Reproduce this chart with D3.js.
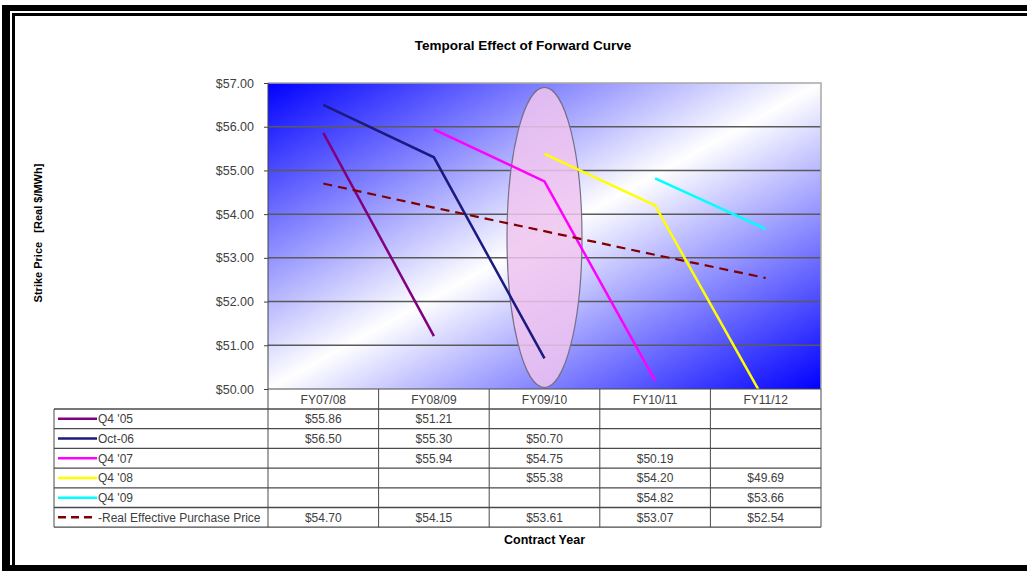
<!DOCTYPE html>
<html>
<head>
<meta charset="utf-8">
<script src="https://cdn.jsdelivr.net/npm/d3@7"></script>
<style>
  html, body { margin: 0; padding: 0; background: #fff; }
  svg { display: block; font-family: "Liberation Sans", Arial, sans-serif; }
</style>
</head>
<body>
<svg id="chart" width="1027" height="571"></svg>
<script>
// ---- data ----
const categories = ["FY07/08", "FY08/09", "FY09/10", "FY10/11", "FY11/12"];
const seriesNames = ["Q4 '05", "Oct-06", "Q4 '07", "Q4 '08", "Q4 '09", "Real Effective Purchase Price"];
const q405 = [55.86, 51.21, null, null, null];
const oct06 = [56.50, 55.30, 50.70, null, null];
const q407 = [null, 55.94, 54.75, 50.19, null];
const q408 = [null, null, 55.38, 54.20, 49.69];
const q409 = [null, null, null, 54.82, 53.66];
const realEffective = [54.70, 54.15, 53.61, 53.07, 52.54];
const yTicks = [50, 51, 52, 53, 54, 55, 56, 57];
const highlightCategory = "FY09/10";

const seriesValues = [q405, oct06, q407, q408, q409, realEffective];
const seriesColors = ["#800080", "#1a1a80", "#ff00ff", "#ffff00", "#00ffff", "#800000"];
const seriesDashed = [false, false, false, false, false, true];

const svg = d3.select("#chart");
const textCol = "#404040";
const fs = "12px";

// ---- frame ----
const frame = svg.append("g").attr("fill", "#000");
frame.append("rect").attr("x", 2).attr("y", 5).attr("width", 8).attr("height", 566);
frame.append("rect").attr("x", 2).attr("y", 5).attr("width", 1025).attr("height", 6);
frame.append("rect").attr("x", 12).attr("y", 13).attr("width", 3).attr("height", 558);
frame.append("rect").attr("x", 12).attr("y", 13).attr("width", 1015).attr("height", 3);
frame.append("rect").attr("x", 2).attr("y", 565).attr("width", 1025).attr("height", 6);

// ---- layout ----
const plot = { left: 268, right: 821, top: 83, bottom: 389 };
const tableLeft = 54;
const headerBottom = 409;
const rowH = 19.7;

const x = d3.scaleBand().domain(categories).range([plot.left, plot.right]);
const y = d3.scaleLinear().domain([50, 57]).range([plot.bottom, plot.top]);
const cx = d => x(d) + x.bandwidth() / 2;

// ---- gradient background ----
const defs = svg.append("defs");
const grad = defs.append("linearGradient").attr("id", "bg")
  .attr("x1", 0).attr("y1", 0).attr("x2", 1).attr("y2", 1);
grad.append("stop").attr("offset", 0).attr("stop-color", "#0000ff");
grad.append("stop").attr("offset", 0.5).attr("stop-color", "#ffffff");
grad.append("stop").attr("offset", 1).attr("stop-color", "#0000ff");
defs.append("clipPath").attr("id", "clip").append("rect")
  .attr("x", plot.left).attr("y", plot.top)
  .attr("width", plot.right - plot.left).attr("height", plot.bottom - plot.top);

svg.append("rect").attr("x", plot.left).attr("y", plot.top)
  .attr("width", plot.right - plot.left).attr("height", plot.bottom - plot.top)
  .attr("fill", "url(#bg)");

// gridlines
svg.append("g").selectAll("line").data(yTicks.slice(1, -1)).join("line")
  .attr("x1", plot.left).attr("x2", plot.right)
  .attr("y1", d => y(d)).attr("y2", d => y(d))
  .attr("stroke", "#5a5a5a").attr("stroke-width", 1.5);
// plot border top / right
svg.append("path")
  .attr("d", `M${plot.left},${plot.top}H${plot.right}V${plot.bottom}`)
  .attr("fill", "none").attr("stroke", "#a8a8a8").attr("stroke-width", 1.5);

// y axis
const yAxis = d3.axisLeft(y).tickValues(yTicks).tickSize(4).tickPadding(10)
  .tickFormat(d => "$" + d3.format(".2f")(d));
const yg = svg.append("g").attr("transform", `translate(${plot.left},0)`).call(yAxis);
yg.select(".domain").attr("stroke", "#404040").attr("d", `M0,${plot.top}V${plot.bottom}`);
yg.selectAll(".tick line").attr("stroke", "#404040");
yg.selectAll(".tick text").attr("fill", textCol).style("font-size", "12.5px")
  .style("font-family", "'Liberation Sans', Arial, sans-serif").attr("x", -14);

// ellipse highlight
svg.append("ellipse")
  .attr("cx", cx(highlightCategory)).attr("cy", (y(56.9) + y(50.03)) / 2)
  .attr("rx", 37.5).attr("ry", (y(50.03) - y(56.9)) / 2)
  .attr("fill", "#f0c4f0").attr("fill-opacity", 0.85)
  .attr("stroke", "#777088").attr("stroke-width", 1.2);

// series lines
const line = d3.line().defined(d => d.v !== null).x(d => cx(d.c)).y(d => y(d.v));
const lg = svg.append("g").attr("clip-path", "url(#clip)");
seriesValues.forEach((vals, i) => {
  const pts = categories.map((c, j) => ({ c, v: vals[j] }));
  lg.append("path").attr("d", line(pts)).attr("fill", "none")
    .attr("stroke", seriesColors[i]).attr("stroke-width", seriesDashed[i] ? 2.2 : 2.5)
    .attr("stroke-dasharray", seriesDashed[i] ? "9,6" : null);
});

// ---- data table ----
const tbl = svg.append("g");
const tableBottom = headerBottom + rowH * seriesNames.length;
const gridStroke = "#4a4a4a";
tbl.append("line").attr("x1", plot.left).attr("x2", plot.right)
  .attr("y1", plot.bottom).attr("y2", plot.bottom).attr("stroke", gridStroke);
d3.range(seriesNames.length + 1).forEach(k => {
  const yy = headerBottom + k * rowH;
  tbl.append("line").attr("x1", tableLeft).attr("x2", plot.right)
    .attr("y1", yy).attr("y2", yy).attr("stroke", gridStroke).attr("stroke-width", 1.3);
});
tbl.append("line").attr("x1", tableLeft).attr("x2", tableLeft)
  .attr("y1", headerBottom).attr("y2", tableBottom).attr("stroke", gridStroke);
categories.forEach(c => {
  tbl.append("line").attr("x1", x(c)).attr("x2", x(c))
    .attr("y1", plot.bottom).attr("y2", tableBottom).attr("stroke", gridStroke);
});
tbl.append("line").attr("x1", plot.right).attr("x2", plot.right)
  .attr("y1", plot.bottom).attr("y2", tableBottom).attr("stroke", gridStroke);

tbl.selectAll("text.cat").data(categories).join("text").attr("class", "cat")
  .attr("x", d => cx(d)).attr("y", (plot.bottom + headerBottom) / 2 + 4.5)
  .attr("text-anchor", "middle").attr("fill", textCol).style("font-size", fs).text(d => d);

seriesNames.forEach((name, i) => {
  const rc = headerBottom + rowH * i + rowH / 2;
  tbl.append("line").attr("x1", 58).attr("x2", 97).attr("y1", rc).attr("y2", rc)
    .attr("stroke", seriesColors[i]).attr("stroke-width", 2.5)
    .attr("stroke-dasharray", seriesDashed[i] ? "8,5" : null);
  tbl.append("text").attr("x", 98).attr("y", rc + 4.5).attr("fill", textCol)
    .style("font-size", fs).text((seriesDashed[i] ? "-" : "") + name);
  seriesValues[i].forEach((v, j) => {
    if (v === null) return;
    tbl.append("text").attr("x", cx(categories[j])).attr("y", rc + 4.5)
      .attr("text-anchor", "middle").attr("fill", textCol).style("font-size", fs)
      .text("$" + d3.format(".2f")(v));
  });
});

// ---- titles ----
svg.append("text").attr("x", 523).attr("y", 50)
  .attr("text-anchor", "middle").style("font-size", "13.5px").style("font-weight", "bold")
  .attr("fill", "#000").text("Temporal Effect of Forward Curve");
svg.append("text").attr("x", (plot.left + plot.right) / 2).attr("y", 544)
  .attr("text-anchor", "middle").style("font-size", "12.5px").style("font-weight", "bold")
  .attr("fill", "#000").text("Contract Year");
svg.append("text").attr("transform", "translate(42,233) rotate(-90)")
  .attr("text-anchor", "middle").style("font-size", "11px").style("font-weight", "bold")
  .attr("fill", "#000").attr("xml:space", "preserve").text("Strike Price   [Real $/MWh]");
</script>
</body>
</html>
